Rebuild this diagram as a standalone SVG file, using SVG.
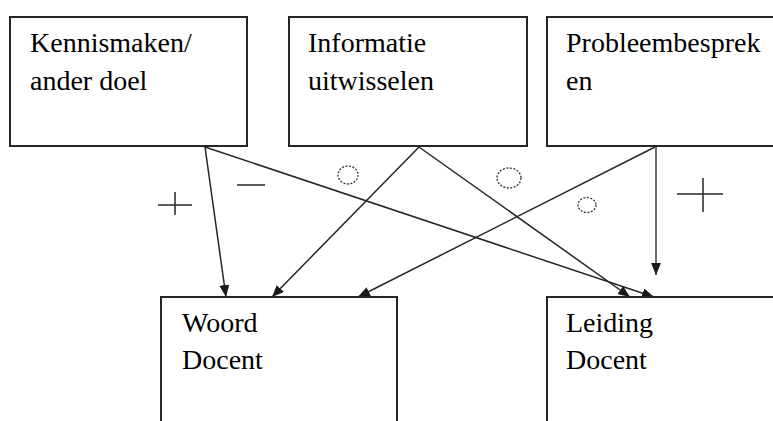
<svg xmlns="http://www.w3.org/2000/svg" width="773" height="421" viewBox="0 0 773 421">
<defs>
<marker id="ah" markerUnits="userSpaceOnUse" markerWidth="12" markerHeight="10" refX="12" refY="5" orient="auto">
<path d="M0,0 L12,5 L0,10 z" fill="#1a1a1a"/>
</marker>
</defs>
<rect width="773" height="421" fill="#fff"/>
<g id="connectors" stroke="#262626" stroke-width="1.5" fill="none">
<line x1="205" y1="147" x2="226" y2="297" marker-end="url(#ah)"/>
<line x1="205" y1="147" x2="654" y2="297" marker-end="url(#ah)"/>
<line x1="419" y1="147" x2="272" y2="297" marker-end="url(#ah)"/>
<line x1="419" y1="147" x2="630" y2="297" marker-end="url(#ah)"/>
<line x1="655" y1="147" x2="358" y2="297" marker-end="url(#ah)"/>
<line x1="656" y1="147" x2="656" y2="275" stroke="#6e6e6e" stroke-width="2" marker-end="url(#ah)"/>
</g>
<g id="node-kennismaken">
<rect x="10" y="17" width="237" height="129" fill="#fff" stroke="#262626" stroke-width="2"/>
<text x="30" y="52" font-family="Liberation Serif, serif" font-size="28">Kennismaken/</text>
<text x="30" y="90" font-family="Liberation Serif, serif" font-size="28">ander doel</text>
</g>
<g id="node-informatie">
<rect x="289" y="17" width="238" height="129" fill="#fff" stroke="#262626" stroke-width="2"/>
<text x="308" y="52" font-family="Liberation Serif, serif" font-size="28">Informatie</text>
<text x="308" y="90" font-family="Liberation Serif, serif" font-size="28">uitwisselen</text>
</g>
<g id="node-probleem">
<rect x="547" y="17" width="260" height="129" fill="#fff" stroke="#262626" stroke-width="2"/>
<text x="566" y="52" font-family="Liberation Serif, serif" font-size="28">Probleembesprek</text>
<text x="566" y="90" font-family="Liberation Serif, serif" font-size="28">en</text>
</g>
<g id="node-woord">
<rect x="161" y="297" width="236" height="160" fill="#fff" stroke="#262626" stroke-width="2"/>
<text x="182" y="332" font-family="Liberation Serif, serif" font-size="28">Woord</text>
<text x="182" y="369" font-family="Liberation Serif, serif" font-size="28">Docent</text>
</g>
<g id="node-leiding">
<rect x="547" y="297" width="260" height="160" fill="#fff" stroke="#262626" stroke-width="2"/>
<text x="566" y="332" font-family="Liberation Serif, serif" font-size="28">Leiding</text>
<text x="566" y="369" font-family="Liberation Serif, serif" font-size="28">Docent</text>
</g>
<g id="labels" stroke="#262626" stroke-width="1.5" fill="none">
<path d="M158,205 H192 M175,192 V215"/>
<path d="M237,185 H265"/>
<ellipse cx="348" cy="175" rx="10" ry="9" stroke="#333" stroke-width="1.3" stroke-dasharray="2 1.5"/>
<ellipse cx="509" cy="178" rx="12" ry="10" stroke="#333" stroke-width="1.3" stroke-dasharray="2 1.5"/>
<ellipse cx="587" cy="205" rx="9" ry="7.5" stroke="#333" stroke-width="1.3" stroke-dasharray="2 1.5"/>
<path d="M677,194 H723 M703,178 V212"/>
</g>
</svg>
